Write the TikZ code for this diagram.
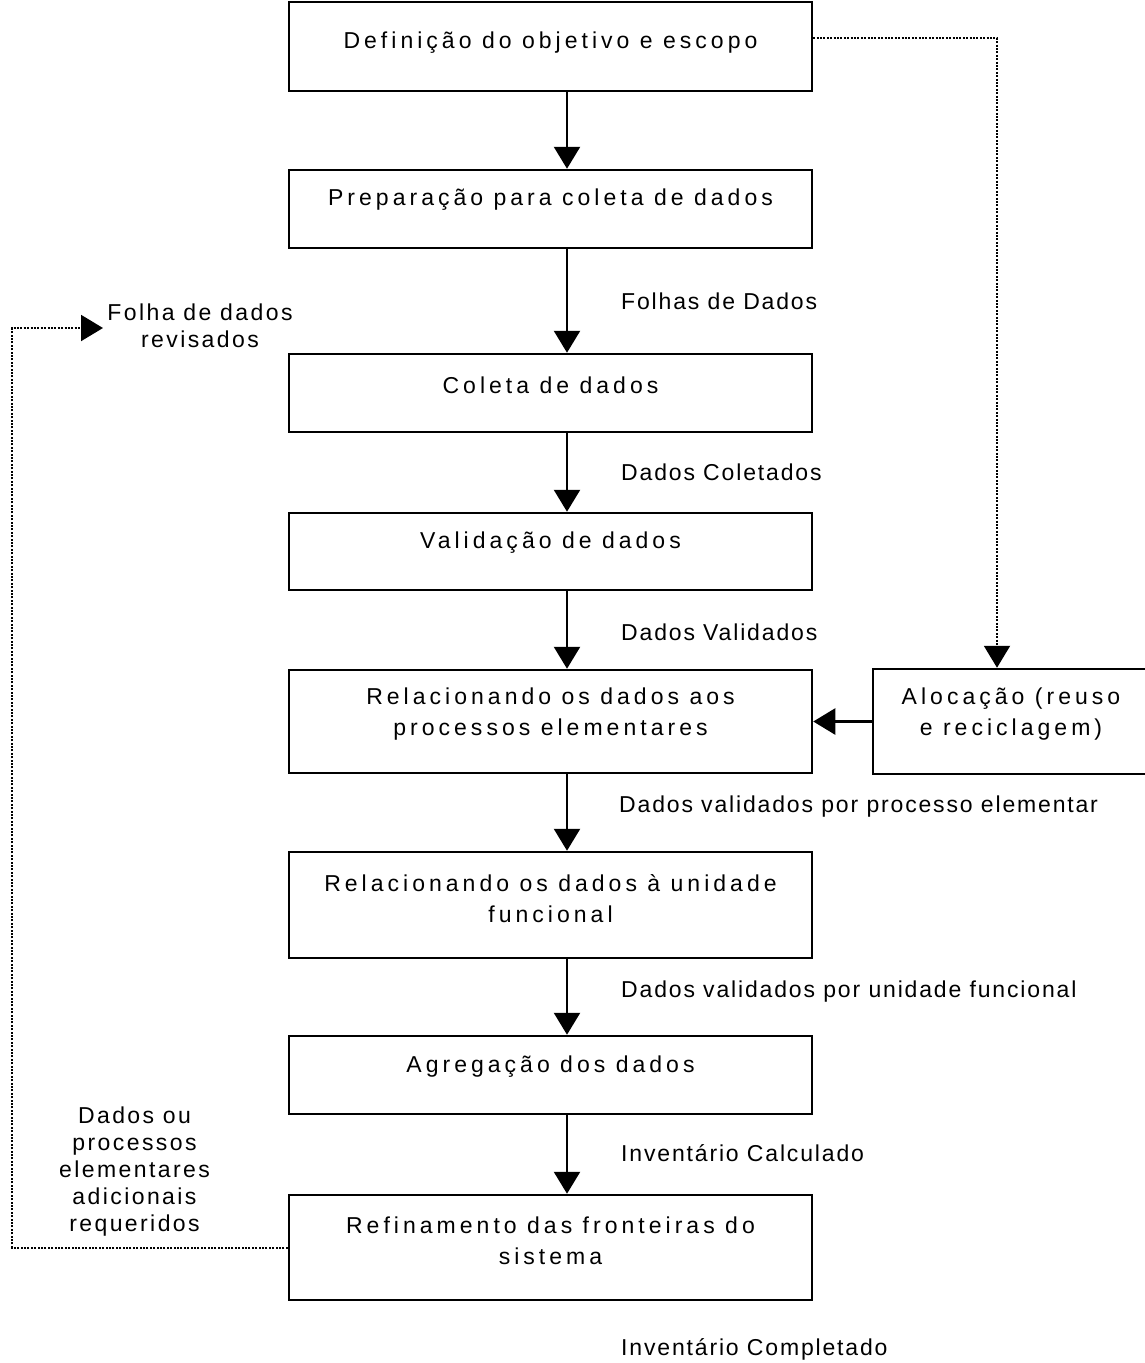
\documentclass[tikz,border=0pt]{standalone}
\usepackage{fontspec}
\setmainfont{Liberation Sans}[LetterSpace=8]
\newfontfamily\boxfont{Liberation Sans}[LetterSpace=17.5]
\newfontfamily\sidefont{Liberation Sans}[LetterSpace=10.5]
\usetikzlibrary{positioning,arrows.meta}
\tikzset{>={Triangle[length=22pt,width=26pt]}}

\begin{document}
\begin{tikzpicture}[x=1pt, y=-1pt, font=\fontsize{23}{31}\selectfont]
    \tikzset{%
      blk/.style={draw, line width=2.5pt, minimum width=523pt, inner sep=0pt},
      txt/.style={inner sep=0pt, align=center, font=\boxfont\fontsize{23}{31}\selectfont},
      lbl/.style={inner sep=0pt, anchor=west},
      side/.style={inner sep=0pt, align=center, font=\sidefont\fontsize{23}{27}\selectfont},
      flow/.style={->, line width=2.5pt},
      back/.style={->, line width=2pt, dash pattern=on 2pt off 1.4pt}
      }
     \useasboundingbox (0,0) rectangle (1145,1363);

     % caixas principais
     \node [blk, minimum height=89pt] (b1) at (550.5,46.5) {};
     \node [blk, minimum height=78pt] (b2) at (550.5,209) {};
     \node [blk, minimum height=78pt] (b3) at (550.5,393) {};
     \node [blk, minimum height=77pt] (b4) at (550.5,551.5) {};
     \node [blk, minimum height=103pt] (b5) at (550.5,721.5) {};
     \node [blk, minimum height=106pt] (b6) at (550.5,905) {};
     \node [blk, minimum height=78pt] (b7) at (550.5,1075) {};
     \node [blk, minimum height=105pt] (b8) at (550.5,1247.5) {};
     \node [blk, minimum width=287pt, minimum height=105pt] (balo) at (1016.5,721.5) {};

     \node [txt] (t1) at (550.5,43) {Definição do objetivo e escopo};
     \node [txt] (t2) at (550.5,200) {Preparação para coleta de dados};
     \node [txt] (t3) at (550.5,385) {Coleta de dados};
     \node [txt] (t4) at (550.5,543) {Validação de dados};
     \node [txt] (t5) at (550.5,714) {Relacionando os dados aos\\processos elementares};
     \node [txt] (t6) at (550.5,899) {Relacionando os dados à unidade\\funcional};
     \node [txt] (t7) at (550.5,1067) {Agregação dos dados};
     \node [txt] (t8) at (550.5,1241) {Refinamento das fronteiras do\\sistema};
     \node [txt] (talo) at (1011,714) {Alocação (reuso\\e reciclagem)};

     % rotulos dos fluxos
     \node [lbl] (l1) at (621,301) {Folhas de Dados};
     \node [lbl] (l2) at (621,472) {Dados Coletados};
     \node [lbl] (l3) at (621,632) {Dados Validados};
     \node [lbl] (l4) at (619,807) {Dados validados por processo elementar};
     \node [lbl] (l5) at (621,992) {Dados validados por unidade funcional};
     \node [lbl] (l6) at (621,1153) {Inventário Calculado};
     \node [lbl] (l7) at (621,1349) {Inventário Completado};

     \node [side] (lrev) at (200,326) {Folha de dados\\revisados};
     \node [side] (ladd) at (134.5,1172) {Dados ou\\processos\\elementares\\adicionais\\requeridos};

     \coordinate (ax) at (567,0);
     \draw [flow] (b1.south -| ax) -- (b2.north -| ax);
     \draw [flow] (b2.south -| ax) -- (b3.north -| ax);
     \draw [flow] (b3.south -| ax) -- (b4.north -| ax);
     \draw [flow] (b4.south -| ax) -- (b5.north -| ax);
     \draw [flow] (b5.south -| ax) -- (b6.north -| ax);
     \draw [flow] (b6.south -| ax) -- (b7.north -| ax);
     \draw [flow] (b7.south -| ax) -- (b8.north -| ax);
     \draw [flow] (balo.west |- b5.east) -- (b5.east);

     % retornos pontilhados
     \coordinate (cR) at (997,38);
     \draw [back] (b1.east |- cR) -- (cR) -- (cR |- balo.north);

     \coordinate (cL) at (12,328);
     \coordinate (cE) at (103,328);
     \draw [back] (b8.west) -- (b8.west -| cL) -- (cL) -- (cE);

  \end{tikzpicture}
\end{document}
